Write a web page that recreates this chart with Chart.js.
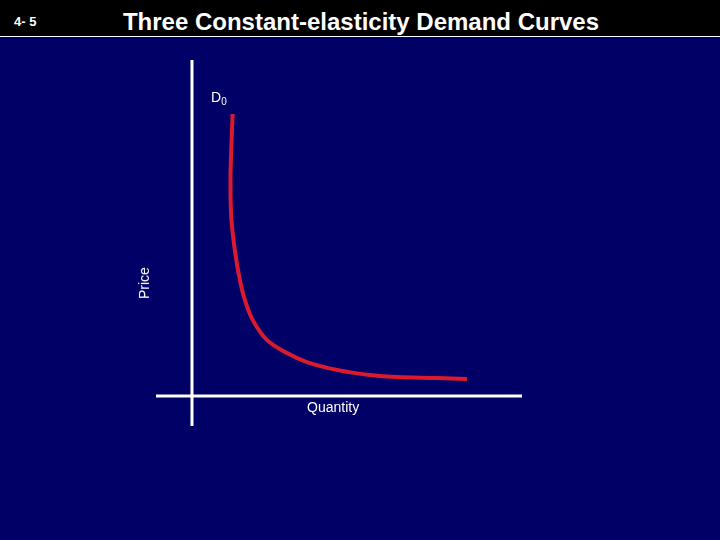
<!DOCTYPE html>
<html>
<head>
<meta charset="utf-8">
<script src="https://cdn.jsdelivr.net/npm/chart.js@4"></script>
<style>
  html, body { margin: 0; padding: 0; }
  body { width: 720px; height: 540px; background: #000066; position: relative; overflow: hidden;
         font-family: "Liberation Sans", Arial, sans-serif; color: #fff; }
  #topbar { position: absolute; left: 0; top: 0; width: 720px; height: 36px; background: #000;
            border-bottom: 1px solid #fff; }
  #slide-no { position: absolute; left: 14px; top: 14px; font-size: 13px; font-weight: bold; }
  #title { position: absolute; left: 0; width: 722px; top: 8px; text-align: center;
           font-size: 24px; font-weight: bold; }
  canvas { position: absolute; left: 0; top: 0; }
  .lbl { position: absolute; font-size: 14px; white-space: nowrap; }
  #price { left: 128px; top: 275px; transform: rotate(-90deg); transform-origin: center; }
  #qty { left: 307px; top: 399px; }
  #d0 { left: 211px; top: 89px; }
  #d0 sub { font-size: 10px; vertical-align: -3px; }
</style>
</head>
<body>
<div id="topbar">
  <div id="slide-no">4- 5</div>
  <div id="title">Three Constant-elasticity Demand Curves</div>
</div>
<canvas id="chart" width="720" height="540"></canvas>
<div class="lbl" id="price">Price</div>
<div class="lbl" id="qty">Quantity</div>
<div class="lbl" id="d0">D<sub>0</sub></div>
<script>
// Demand curve D0 (quantity, price in axis units)
const quantity = [1.13, 1.09, 1.07, 1.09, 1.19, 1.33, 1.47, 1.69, 2.08, 2.64, 3.19, 4.03, 4.94, 5.69, 6.81, 7.64];
const price    = [9.4, 8.2, 7.2, 5.97, 4.87, 3.87, 3.2, 2.53, 1.87, 1.43, 1.13, 0.87, 0.7, 0.63, 0.6, 0.57];

// Axis ranges (the axes cross a little inside the plotted box)
const xRange = [-1, 9.17];
const yRange = [-1, 11.2];

// Draw the two white axis lines through zero
const crossAxes = {
    id: 'crossAxes',
    beforeDatasetsDraw(chart) {
        const { ctx, chartArea, scales } = chart;
        const x0 = scales.x.getPixelForValue(0);
        const y0 = scales.y.getPixelForValue(0);
        ctx.save();
        ctx.strokeStyle = '#ffffff';
        ctx.lineWidth = 3;
        ctx.beginPath();
        ctx.moveTo(x0, chartArea.top);
        ctx.lineTo(x0, chartArea.bottom);
        ctx.moveTo(chartArea.left, y0);
        ctx.lineTo(chartArea.right, y0);
        ctx.stroke();
        ctx.restore();
    }
};

new Chart(document.getElementById('chart'), {
    type: 'line',
    data: {
        datasets: [{
            label: 'D0',
            data: quantity.map((q, i) => ({ x: q, y: price[i] })),
            borderColor: '#dc1a2e',
            borderWidth: 4,
            pointRadius: 0,
            tension: 0.35,
            fill: false,
            clip: false,
        }],
    },
    options: {
        responsive: false,
        devicePixelRatio: 1,
        animation: false,
        layout: { padding: { left: 156, top: 60, right: 198, bottom: 114 } },
        plugins: { legend: { display: false }, tooltip: { enabled: false } },
        scales: {
            x: { type: 'linear', min: xRange[0], max: xRange[1], display: false },
            y: { type: 'linear', min: yRange[0], max: yRange[1], display: false },
        },
    },
    plugins: [crossAxes],
});
</script>
</body>
</html>
